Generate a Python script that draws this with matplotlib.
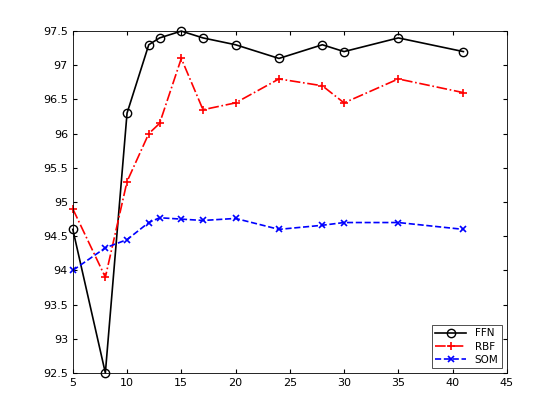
import matplotlib
matplotlib.use("Agg")
import matplotlib.pyplot as plt

x = [5, 8, 10, 12, 13, 15, 17, 20, 24, 28, 30, 35, 41]
ffn = [94.6, 92.5, 96.3, 97.3, 97.4, 97.5, 97.4, 97.3, 97.1, 97.3, 97.2, 97.4, 97.2]
rbf = [94.9, 93.9, 95.3, 96.0, 96.15, 97.1, 96.35, 96.45, 96.8, 96.7, 96.45, 96.8, 96.6]
som = [94.0, 94.33, 94.45, 94.7, 94.77, 94.75, 94.73, 94.76, 94.6, 94.66, 94.7, 94.7, 94.6]

xticks = [5, 10, 15, 20, 25, 30, 35, 40, 45]
yticks = [92.5, 93, 93.5, 94, 94.5, 95, 95.5, 96, 96.5, 97, 97.5]
ylabels = ["92.5", "93", "93.5", "94", "94.5", "95", "95.5", "96", "96.5", "97", "97.5"]

fig = plt.figure(figsize=(5.6, 4.2), dpi=100)
ax = fig.add_axes([0.13, 0.112, 0.775, 0.814])
ax.plot(x, ffn, 'k-o', mfc='none', lw=1.2, ms=6, clip_on=False, label='FFN')
ax.plot(x, rbf, 'r-.+', lw=1.2, ms=6, mew=1.2, clip_on=False, label='RBF')
ax.plot(x, som, 'b--x', lw=1.2, ms=4.5, mew=1.2, clip_on=False, label='SOM')
ax.set_xlim(5, 45)
ax.set_ylim(92.5, 97.5)
ax.set_xticks(xticks)
ax.set_yticks(yticks)
ax.set_yticklabels(ylabels)
ax.tick_params(direction='in', labelsize=8, top=True, right=True, length=3)
for s in ax.spines.values():
    s.set_linewidth(0.6)
leg = ax.legend(loc='lower right', fontsize=7.5, fancybox=False, edgecolor='k',
                handlelength=3, borderpad=0.3, labelspacing=0.3, numpoints=1)
leg.get_frame().set_linewidth(0.6)
fig.savefig("out.png")
